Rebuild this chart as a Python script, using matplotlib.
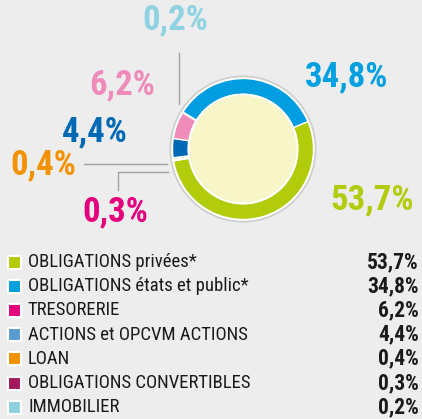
"""Allocation donut with percentage call-outs and a category list."""

import matplotlib

matplotlib.use("Agg")
import matplotlib.pyplot as plt
from matplotlib.patches import Circle, Rectangle

categories = [
    "OBLIGATIONS privées*",
    "OBLIGATIONS états et public*",
    "TRESORERIE",
    "ACTIONS et OPCVM ACTIONS",
    "LOAN",
    "OBLIGATIONS CONVERTIBLES",
    "IMMOBILIER",
]
shares = [53.7, 34.8, 6.2, 4.4, 0.4, 0.3, 0.2]
share_labels = ["53,7%", "34,8%", "6,2%", "4,4%", "0,4%", "0,3%", "0,2%"]

# colours used in the ring, for the call-outs and in the list
ring_colors = ["#b2cb0a", "#009ee0", "#f08cba", "#0068b4", "#f39200", "#b0174f", "#8ed3e4"]
callout_colors = ["#b2cb0a", "#00a0e1", "#ef8bbb", "#0069b4", "#f39200", "#e5007d", "#8fd3e2"]
legend_colors = ["#b5cc0a", "#00a0dc", "#e5007d", "#5b9bd0", "#f39200", "#a4195b", "#8dd0df"]

# clockwise order of the slices round the ring
ring_order = [0, 5, 4, 3, 2, 6, 1]

W, H = 422, 419
BG = "#ededed"
FONT = ["Roboto Condensed", "DejaVu Sans"]


def py(y):
    return H - y


fig = plt.figure(figsize=(W / 100, H / 100), dpi=100, facecolor=BG)
ax = fig.add_axes([0, 0, 1, 1])
ax.set_facecolor(BG)

cx, cy = 243, py(149)
ax.add_patch(Circle((cx, cy), 73.5, facecolor="#cdcdcd", edgecolor="none", zorder=1))
ax.add_patch(Circle((cx, cy), 71.8, facecolor="white", edgecolor="none", zorder=1))

ax.pie(
    [shares[i] for i in ring_order],
    colors=[ring_colors[i] for i in ring_order],
    startangle=23,
    counterclock=False,
    center=(cx, cy),
    radius=70.5,
    wedgeprops=dict(width=16, edgecolor="white", linewidth=1.0),
)
for w in ax.patches[2:]:
    w.set_zorder(2)
ax.add_patch(Circle((cx, cy), 54.5, facecolor="#f8f6c9", edgecolor="white", linewidth=1.5, zorder=3))

# leader lines
line_kw = dict(color="#a3a3a3", linewidth=1.0, zorder=1.5)
ax.plot([179, 179], [py(53), py(104)], **line_kw)
ax.plot([84, 167], [py(164), py(164)], **line_kw)
ax.plot([118, 118, 168], [py(190), py(172), py(172)], **line_kw)

# call-outs (px centres)
callout_pos = {
    0: (372, 200),
    1: (347, 77),
    2: (122, 85),
    3: (95, 132),
    4: (43, 165),
    5: (115, 212),
    6: (175, 20),
}
for i, (x, y) in callout_pos.items():
    ax.text(x, py(y), share_labels[i], color=callout_colors[i], fontsize=25,
            fontweight="bold", family=FONT, ha="center", va="center")

# list
row0, step = 262, 24.2
for k, name in enumerate(categories):
    y = row0 + k * step
    ax.add_patch(Rectangle((8, py(y) - 6.5), 13, 13, facecolor=legend_colors[k],
                           edgecolor="white", linewidth=1.5))
    ax.text(28, py(y), name, fontsize=13.5, family=FONT, color="#1a1a1a",
            ha="left", va="center")
    ax.text(419, py(y), share_labels[k], fontsize=15.5, family=FONT,
            fontweight="bold", color="#1a1a1a", ha="right", va="center")

ax.set_xlim(0, W)
ax.set_ylim(0, H)
ax.set_aspect("auto")
ax.axis("off")

fig.savefig("out.png", dpi=100, facecolor=BG)
